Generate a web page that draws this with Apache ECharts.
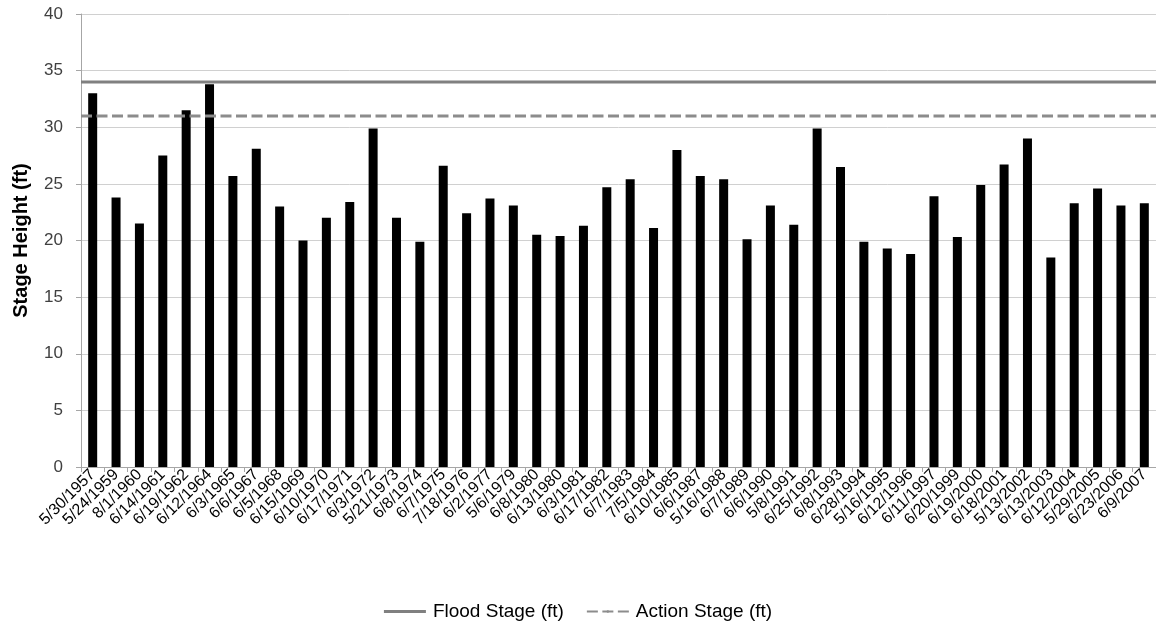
<!DOCTYPE html>
<html>
<head>
<meta charset="utf-8">
<script src="https://cdn.jsdelivr.net/npm/echarts@6/dist/echarts.min.js"></script>
<style>
html,body{margin:0;padding:0;background:#fff;}
#c{width:1156px;height:630px;}
</style>
</head>
<body>
<div id="c"></div>
<script>
const categories = ['5/30/1957','5/24/1959','8/1/1960','6/14/1961','6/19/1962','6/12/1964','6/3/1965','6/6/1967','6/5/1968','6/15/1969','6/10/1970','6/17/1971','6/3/1972','5/21/1973','6/8/1974','6/7/1975','7/18/1976','6/2/1977','5/6/1979','6/8/1980','6/13/1980','6/3/1981','6/17/1982','6/7/1983','7/5/1984','6/10/1985','6/6/1987','5/16/1988','6/7/1989','6/6/1990','5/8/1991','6/25/1992','6/8/1993','6/28/1994','5/16/1995','6/12/1996','6/11/1997','6/20/1999','6/19/2000','6/18/2001','5/13/2002','6/13/2003','6/12/2004','5/29/2005','6/23/2006','6/9/2007'];
const stageHeight = [33.0,23.8,21.5,27.5,31.5,33.8,25.7,28.1,23.0,20.0,22.0,23.4,29.9,22.0,19.9,26.6,22.4,23.7,23.1,20.5,20.4,21.3,24.7,25.4,21.1,28.0,25.7,25.4,20.1,23.1,21.4,29.9,26.5,19.9,19.3,18.8,23.9,20.3,24.9,26.7,29.0,18.5,23.3,24.6,23.1,23.3];
const floodStage = [34, 34];
const actionStage = [31, 31];
const yTicks = [0,5,10,15,20,25,30,35,40];

const chart = echarts.init(document.getElementById('c'));
const font = 'Liberation Sans, Arial, sans-serif';
chart.setOption({
  animation:false,
  backgroundColor:'#fff',
  textStyle:{fontFamily:font},
  grid:{left:81,right:0,top:14,bottom:163,containLabel:false},
  legend:{
    bottom:4,left:'center',itemWidth:42,itemHeight:3,itemGap:22,
    textStyle:{fontSize:19,color:'#000',fontFamily:font,padding:[0,0,0,2]},
    data:[{name:'Flood Stage (ft)',icon:'path://M0,0H42V3H0Z'},{name:'Action Stage (ft)'}]
  },
  xAxis:[{
    type:'category',data:categories,
    axisLine:{lineStyle:{color:'#a6a6a6',width:1}},
    axisTick:{show:true,alignWithLabel:false,length:5,lineStyle:{color:'#a6a6a6'}},
    axisLabel:{interval:0,rotate:45,fontSize:16,color:'#000',fontFamily:font,margin:5}
  },{
    type:'value',min:0,max:1,show:false
  }],
  yAxis:{
    type:'value',min:yTicks[0],max:yTicks[yTicks.length-1],interval:5,
    name:'Stage Height (ft)',nameLocation:'middle',nameGap:50,
    nameTextStyle:{fontSize:20,fontWeight:'bold',color:'#000',fontFamily:font},
    axisLine:{show:true,lineStyle:{color:'#a6a6a6'}},
    axisTick:{show:true,length:5,lineStyle:{color:'#a6a6a6'}},
    axisLabel:{fontSize:17,color:'#404040',fontFamily:font,margin:18},
    splitLine:{lineStyle:{color:'#d0d0d0',width:1}}
  },
  series:[{
    name:'Stage Height (ft)',type:'bar',data:stageHeight,barWidth:9,
    itemStyle:{color:'#000'},z:2
  },{
    name:'Flood Stage (ft)',type:'line',xAxisIndex:1,
    data:[[0,floodStage[0]],[1,floodStage[1]]],
    symbol:'none',lineStyle:{color:'#808080',width:3,type:'solid'},itemStyle:{color:'#808080'},z:3
  },{
    name:'Action Stage (ft)',type:'line',xAxisIndex:1,
    data:[[0,actionStage[0]],[1,actionStage[1]]],
    symbol:'none',lineStyle:{color:'#8c8c8c',width:3,type:[11,4.5]},itemStyle:{color:'#8c8c8c'},z:3
  }]
});
</script>
</body>
</html>
